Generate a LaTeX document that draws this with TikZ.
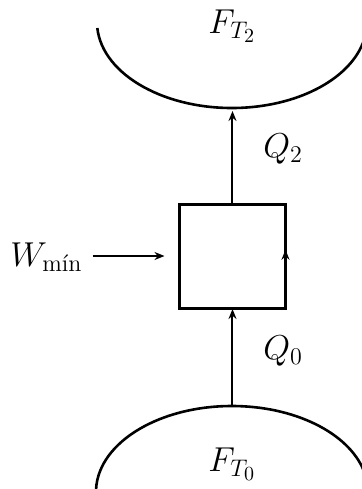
\documentclass[tikz,border=0pt]{standalone}
\usepackage{amsmath}
\usetikzlibrary{arrows.meta,decorations.markings}
\begin{document}
\begin{tikzpicture}[x=0.5pt,y=0.5pt,
  lbl/.style={inner sep=0pt, anchor=base west, font=\LARGE},
  flow/.style={line width=1pt, -{Stealth[length=5pt,width=4pt]}},
  res/.style={line width=1.3pt},
  engbox/.style={draw, line width=1.5pt, minimum width=53pt, minimum height=52pt, inner sep=0pt, outer sep=0pt}]
\useasboundingbox (0,0) rectangle (362,-489);
% reservoirs
\draw[res] (232,-22) ++(184:135 and 86) arc[start angle=184, end angle=348, x radius=135, y radius=86];
\draw[res] (232,-492) ++(178:136 and 86) arc[start angle=178, end angle=12, x radius=136, y radius=86];
\coordinate (hot) at (232.5,-108);
\coordinate (cold) at (232.5,-406);
% engine
\node[engbox] (engine) at (232.5,-256) {};
\path[decoration={markings, mark=at position 0.56 with {\arrow[line width=1pt]{Stealth[length=5pt,width=4pt]}}}, decorate] (engine.south east) -- (engine.north east);
% labels
\node[lbl] (ft2) at (208,-33) {$F_{T_2}$};
\node[lbl] (ft0) at (208,-471) {$F_{T_0}$};
\node[lbl] (q2) at (263,-157) {$Q_2$};
\node[lbl] (q0) at (263,-359) {$Q_0$};
\node[lbl] (w) at (10,-266) {$W_{\text{mín}}$};
% flows
\draw[flow, shorten >=1.5pt] (engine.north) -- (hot);
\draw[flow, shorten >=0.5pt] (cold) -- (engine.south);
\draw[flow, shorten <=5pt, shorten >=7.5pt] (w.east |- engine.west) -- (engine.west);
\end{tikzpicture}
\end{document}
